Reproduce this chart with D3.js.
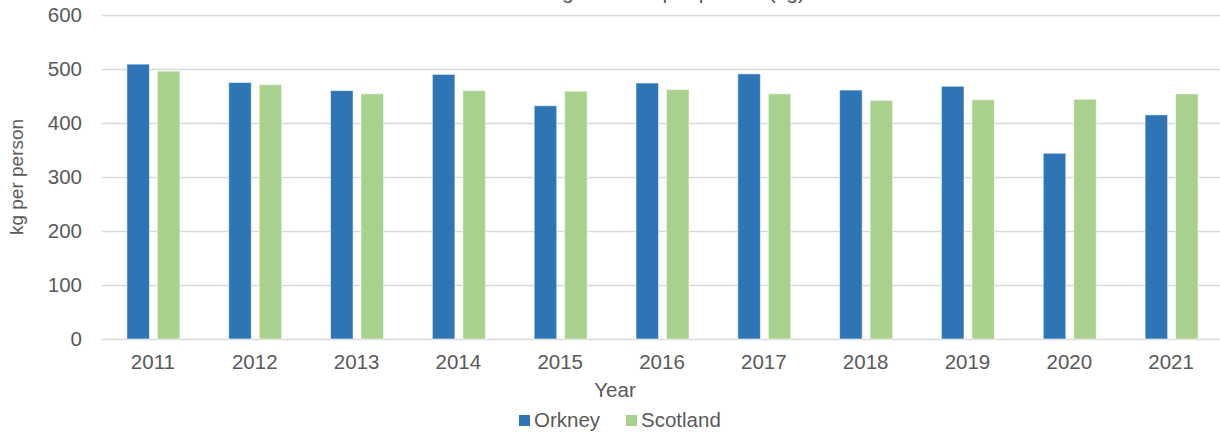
<!DOCTYPE html>
<html>
<head>
<meta charset="utf-8">
<script src="https://cdn.jsdelivr.net/npm/d3@7/dist/d3.min.js"></script>
<style>
  html, body { margin: 0; padding: 0; background: #fff; }
  svg { display: block; font-family: "Liberation Sans", Arial, sans-serif; }
</style>
</head>
<body>
<svg id="chart" width="1220" height="436"></svg>
<script>
// Household waste generated, kg per person
const years = ["2011", "2012", "2013", "2014", "2015", "2016", "2017", "2018", "2019", "2020", "2021"];
const orkney = [509, 475, 460, 490, 432, 474, 491, 461, 468, 344, 415];
const scotland = [496, 471, 454, 460, 459, 462, 454, 442, 443, 444, 454];
const seriesNames = ["Orkney", "Scotland"];
const seriesColors = ["#2e75b6", "#a9d18e"];
const yTicks = [0, 100, 200, 300, 400, 500, 600];

const svg = d3.select("#chart");
const margin = { left: 102, right: -2, top: 15, bottom: 97 };
const W = 1220, H = 436;
const fontFamily = "Liberation Sans, Arial, sans-serif";
const fs = 20.5;

const x = d3.scaleBand().domain(years).range([margin.left, W - margin.right]).paddingInner(0).paddingOuter(0);
const y = d3.scaleLinear().domain([0, 600]).range([H - margin.bottom, margin.top]);
const inner = d3.scaleBand().domain(seriesNames).range([x.bandwidth() / 2 - 26, x.bandwidth() / 2 + 27]).paddingInner(0.26);

const textColor = "#595959";

// chart title, sitting above the top edge so only its descenders show
svg.append("text")
  .attr("x", 600).attr("y", -1)
  .attr("text-anchor", "middle")
  .attr("font-size", 21)
  .attr("fill", textColor)
  .text("Household waste generated per person (kg)");

// gridlines and value labels
const yAxis = d3.axisLeft(y).tickValues(yTicks).tickSize(-(W - margin.left - margin.right)).tickPadding(20);
const gy = svg.append("g").attr("transform", `translate(${margin.left},0)`).call(yAxis);
gy.select(".domain").remove();
gy.selectAll(".tick line").attr("stroke", "#d9d9d9").attr("stroke-width", 1.5);
gy.selectAll(".tick text").attr("font-size", fs).attr("fill", textColor).attr("font-family", fontFamily);

// bars
const data = years.map((yr, i) => ({ year: yr, values: [orkney[i], scotland[i]] }));
const groups = svg.append("g").selectAll("g").data(data).join("g")
  .attr("transform", d => `translate(${x(d.year)},0)`);
groups.selectAll("rect")
  .data(d => d.values.map((v, j) => ({ name: seriesNames[j], value: v, color: seriesColors[j] })))
  .join("rect")
  .attr("x", d => inner(d.name))
  .attr("width", inner.bandwidth())
  .attr("y", d => y(d.value))
  .attr("height", d => y(0) - y(d.value))
  .attr("fill", d => d.color)
  .attr("stroke", "rgba(255,255,255,0.55)")
  .attr("stroke-width", 1);

// year labels
const xAxis = d3.axisBottom(x).tickSize(0).tickPadding(15);
const gx = svg.append("g").attr("transform", `translate(0,${y(0)})`).call(xAxis);
gx.select(".domain").remove();
gx.selectAll(".tick text").attr("font-size", fs).attr("fill", textColor).attr("font-family", fontFamily);

// axis titles
svg.append("text")
  .attr("x", 615).attr("y", 397)
  .attr("text-anchor", "middle")
  .attr("font-size", fs).attr("fill", textColor)
  .text("Year");

svg.append("text")
  .attr("transform", `translate(23,${(y(0) + y(600)) / 2}) rotate(-90)`)
  .attr("text-anchor", "middle")
  .attr("font-size", 19).attr("fill", textColor)
  .text("kg per person");

// legend
const legendItems = [
  { name: seriesNames[0], color: seriesColors[0], x: 519 },
  { name: seriesNames[1], color: seriesColors[1], x: 626 }
];
const lg = svg.append("g").selectAll("g").data(legendItems).join("g")
  .attr("transform", d => `translate(${d.x},0)`);
lg.append("rect").attr("x", 0).attr("y", 415).attr("width", 11).attr("height", 11).attr("fill", d => d.color);
lg.append("text").attr("x", 15).attr("y", 427)
  .attr("font-size", fs).attr("fill", textColor)
  .text(d => d.name);
</script>
</body>
</html>
